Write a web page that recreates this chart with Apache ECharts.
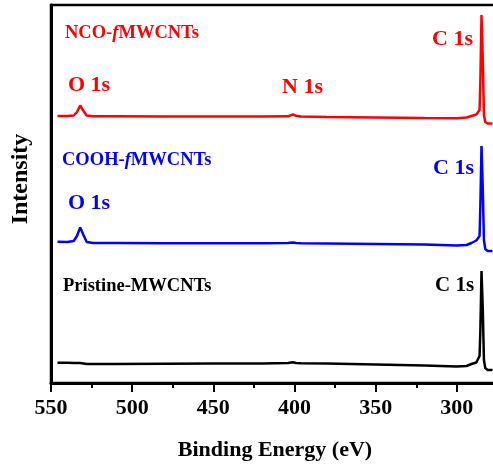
<!DOCTYPE html>
<html>
<head>
<meta charset="utf-8">
<script src="https://cdn.jsdelivr.net/npm/echarts@6/dist/echarts.min.js"></script>
<style>
	html, body { margin: 0; padding: 0; background: #fff; }
	#chart-xps-div { width: 493px; height: 465px; }
</style>
</head>
<body>
<div id="chart-xps-div"></div>
<script>
// binding energy (eV), shared by all three spectra
var energy = [546, 540, 536, 534, 532, 530, 528, 524, 510, 480, 450, 420, 404, 401,
	399, 396, 380, 350, 320, 300, 294, 291, 288, 287, 286, 285.5, 284.8, 284,
	283.3, 282.5, 281, 278];

// intensity, stacked with offsets as in the figure
var nco_values = [267, 267, 267.5, 271, 277.5, 272, 267.5, 266.7, 266.7, 266.5,
	266.5, 266.5, 266.7, 268.5, 267.2, 266.5, 266, 265.5, 265, 264.8, 265.5, 267,
	268.5, 269.5, 273, 303, 368, 323, 268, 261, 259.5, 259.5];
var cooh_values = [141.3, 141, 142, 147, 155.5, 148, 141, 140, 140, 139.8, 139.7,
	139.7, 140, 140.5, 140, 139.7, 139.5, 139, 138.5, 137.5, 138, 140, 142.5,
	143.5, 147, 178, 237, 193, 143, 134, 132, 132];
var pristine_values = [20.3, 20.2, 20, 20, 20, 19.5, 19, 19, 19, 19.2, 19.4, 19.6,
	20, 20.7, 20, 19.8, 19.5, 18.5, 17.5, 16.5, 17, 19, 20.5, 22, 27, 53, 112, 73,
	23, 15, 13, 13];

var series_names = ["NCO-fMWCNTs", "COOH-fMWCNTs", "Pristine-MWCNTs"];
var series_colors = ["#ff0000", "#0000ff", "#000000"];

var FONT = "'Liberation Serif', 'Times New Roman', serif";

function pairs(values) {
	return energy.map(function (e, i) { return [e, values[i]]; });
}

// 文本标注
function label(text, x, y, color, size) {
	return {
		type: "text",
		x: x,
		y: y,
		style: {
			text: text,
			fill: color,
			font: "bold " + size + "px " + FONT,
			textVerticalAlign: "middle",
			verticalAlign: "middle"
		}
	};
}

function sample_label(prefix, rest, x, y, color, italic_f) {
	var text = italic_f ? "{a|" + prefix + "}{b|f}{a|" + rest + "}"
			    : "{a|" + prefix + rest + "}";
	return {
		type: "text",
		x: x,
		y: y,
		style: {
			text: text,
			textVerticalAlign: "middle",
			verticalAlign: "middle",
			rich: {
				a: { fill: color, color: color, fontFamily: FONT,
				     fontWeight: "bold", fontSize: 18.5 },
				b: { fill: color, color: color, fontFamily: FONT,
				     fontWeight: "bold", fontStyle: "italic", fontSize: 18.5 }
			}
		}
	};
}

var chart = echarts.init(document.getElementById("chart-xps-div"));

var option = {
	animation: false,
	backgroundColor: "#fff",
	grid: {
		left: 51,
		width: 487,
		top: 5,
		bottom: 82,
		outerBoundsMode: "none",
		containLabel: false,
		show: true,
		borderColor: "#000",
		borderWidth: 2.5
	},
	xAxis: {
		type: "value",
		inverse: true,
		min: 250,
		max: 550,
		interval: 50,
		splitLine: { show: false },
		axisLine: { lineStyle: { color: "#000", width: 3 } },
		axisTick: { length: 9, lineStyle: { width: 2, color: "#000" } },
		minorTick: { show: true, splitNumber: 2, length: 5,
			     lineStyle: { width: 2, color: "#000" } },
		axisLabel: {
			margin: 14,
			color: "#000",
			fontFamily: FONT,
			fontWeight: "bold",
			fontSize: 22
		}
	},
	yAxis: {
		type: "value",
		min: 0,
		max: 378,
		splitLine: { show: false },
		axisTick: { show: false },
		axisLabel: { show: false },
		axisLine: { show: true, lineStyle: { color: "#000", width: 3 } }
	},
	series: [
		{ name: series_names[0], type: "line", data: pairs(nco_values) },
		{ name: series_names[1], type: "line", data: pairs(cooh_values) },
		{ name: series_names[2], type: "line", data: pairs(pristine_values) }
	].map(function (s, i) {
		s.showSymbol = false;
		s.lineStyle = { color: series_colors[i], width: 2.5 };
		s.itemStyle = { color: series_colors[i] };
		return s;
	}),
	graphic: [
		sample_label("NCO-", "MWCNTs", 65, 33, series_colors[0], true),
		label("O 1s", 68, 85, series_colors[0], 22),
		label("N 1s", 282, 87, series_colors[0], 22),
		label("C 1s", 432, 39, series_colors[0], 22),
		sample_label("COOH-", "MWCNTs", 62, 160, series_colors[1], true),
		label("O 1s", 68, 203, series_colors[1], 22),
		label("C 1s", 433, 168, series_colors[1], 22),
		sample_label("Pristine-", "MWCNTs", 63, 286, series_colors[2], false),
		label("C 1s", 435, 286, series_colors[2], 21),
		{
			type: "text",
			x: 21,
			y: 179,
			rotation: Math.PI / 2,
			style: {
				text: "Intensity",
				fill: "#000",
				font: "bold 24px " + FONT,
				textAlign: "center",
				align: "center",
				textVerticalAlign: "middle",
				verticalAlign: "middle"
			}
		},
		{
			type: "text",
			x: 275,
			y: 450,
			style: {
				text: "Binding Energy (eV)",
				fill: "#000",
				font: "bold 22px " + FONT,
				textAlign: "center",
				align: "center",
				textVerticalAlign: "middle",
				verticalAlign: "middle"
			}
		}
	]
};

chart.setOption(option);
window.addEventListener("resize", chart.resize);
</script>
</body>
</html>
